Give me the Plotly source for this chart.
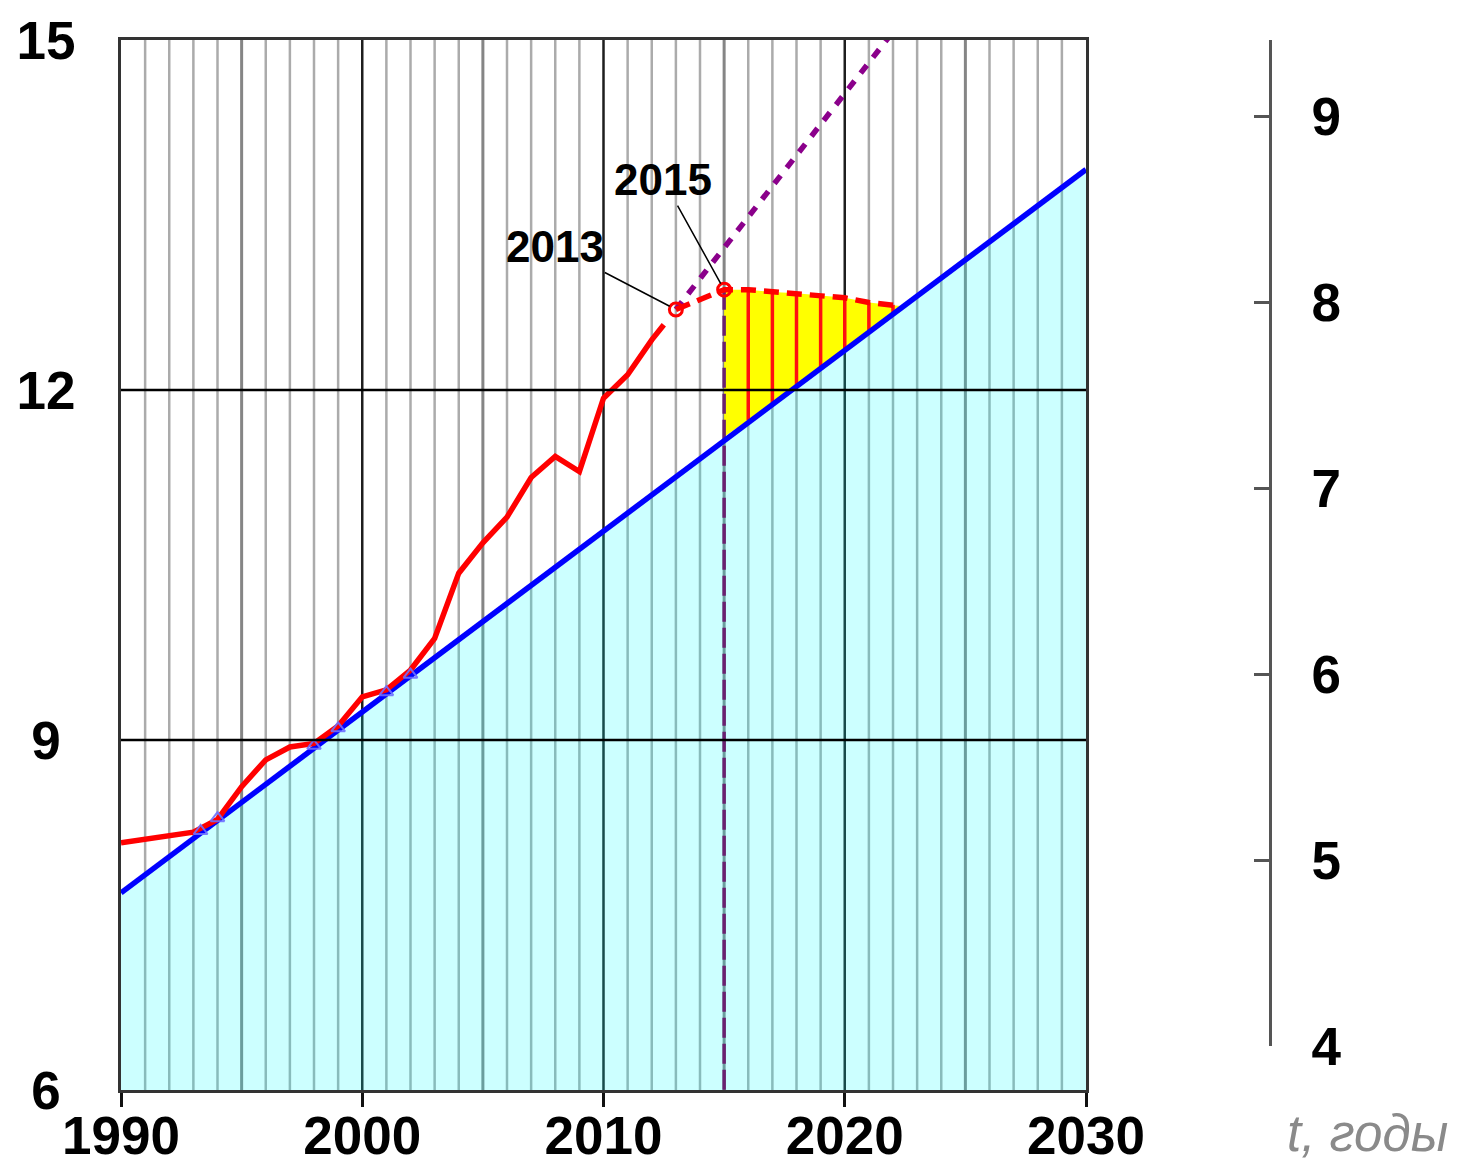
import plotly.graph_objects as go

# ---------------- data ----------------
red_years = [1990, 1993, 1994, 1995, 1996, 1997, 1998, 1999, 2000, 2001, 2002,
             2003, 2004, 2005, 2006, 2007, 2008, 2009, 2010, 2011, 2012, 2012.5]
red_values = [8.12, 8.21, 8.32, 8.60, 8.83, 8.94, 8.97, 9.12, 9.37, 9.43, 9.60,
              9.87, 10.43, 10.69, 10.91, 11.25, 11.43, 11.30, 11.93, 12.13, 12.43, 12.56]

forecast_years = [2013, 2015, 2016, 2017, 2018, 2019, 2020, 2021, 2022, 2022.3]
forecast_values = [12.69, 12.86, 12.86, 12.84, 12.83, 12.81, 12.79, 12.75, 12.73, 12.72]

trend_years = [1990, 2030]
trend_values = [7.69, 13.89]

extrap_years = [2013, 2022]
extrap_values = [12.69, 15.07]

marked_years = [2013, 2015]
marked_values = [12.69, 12.86]
marked_labels = ["2013", "2015"]

tri_years = [1993.3, 1994, 1998, 1999, 2001, 2002]
tri_values = [8.22, 8.33, 8.95, 9.10, 9.41, 9.56]

# yellow zone: upper edge = forecast from 2015, lower edge on the trend line
gap_years = [2015, 2016, 2017, 2018, 2019, 2020, 2021, 2022, 2022.3]
gap_top = [12.86, 12.86, 12.84, 12.83, 12.81, 12.79, 12.75, 12.73, 12.72]
gap_bottom = [11.60, 11.74, 11.88, 12.03, 12.18, 12.34, 12.49, 12.64, 12.72]

x_ticks = [1990, 2000, 2010, 2020, 2030]
y_ticks = [6, 9, 12, 15]
y2_ticks = [4, 5, 6, 7, 8, 9]
x_label = "t, годы"

# ---------------- layout geometry (screen pixels; page has 8px body margin) ----------------
OFF = 8
FW, FH = 1468 - 2 * OFF, 1172 - 2 * OFF
plot_left_px, plot_right_px = 121, 1086
plot_top_px, plot_bottom_px = 40, 1090
L = plot_left_px - OFF
T = plot_top_px - OFF
R = 100
B = FH - (plot_bottom_px - OFF)
PW, PH = FW - L - R, FH - T - B
axis2_px = 1270
axis2_bottom_px = 1046
axis2_px_per_unit = 186


def px_x(p):
    return (p - plot_left_px) / PW


def px_y(p):
    return (plot_bottom_px - p) / PH


FONT = "Liberation Sans, Arial, sans-serif"

fig = go.Figure()

# cyan area under trend line
fig.add_trace(go.Scatter(x=trend_years, y=trend_values, mode="lines",
                         line=dict(width=0), fill="tozeroy",
                         fillcolor="rgba(0,255,255,0.2)", hoverinfo="skip",
                         showlegend=False))

# yellow zone
fig.add_trace(go.Scatter(x=gap_years + gap_years[::-1],
                         y=gap_top + gap_bottom[::-1],
                         mode="lines", line=dict(width=0), fill="toself",
                         fillcolor="#FFFF00", hoverinfo="skip", showlegend=False))

# red hatch lines in yellow zone
hx, hy = [], []
for yr, top, bot in zip(gap_years[1:-1], gap_top[1:-1], gap_bottom[1:-1]):
    hx += [yr, yr, None]
    hy += [top, bot, None]
fig.add_trace(go.Scatter(x=hx, y=hy, mode="lines",
                         line=dict(color="#FF1010", width=3.5),
                         hoverinfo="skip", showlegend=False))

# purple vertical dashed line at 2015
fig.add_trace(go.Scatter(x=[marked_years[1], marked_years[1]],
                         y=[marked_values[1], 6],
                         mode="lines",
                         line=dict(color="#6A2070", width=3.5, dash="20px,6px"),
                         hoverinfo="skip", showlegend=False))

# blue trend line
fig.add_trace(go.Scatter(x=trend_years, y=trend_values, mode="lines",
                         line=dict(color="#0000FF", width=5.5),
                         hoverinfo="skip", showlegend=False))

# purple dotted extrapolation
fig.add_trace(go.Scatter(x=extrap_years, y=extrap_values, mode="lines",
                         line=dict(color="#8B008B", width=5.5, dash="10px,10px"),
                         hoverinfo="skip", showlegend=False))

# red actual line
fig.add_trace(go.Scatter(x=red_years, y=red_values, mode="lines",
                         line=dict(color="#FF0000", width=5.5),
                         hoverinfo="skip", showlegend=False))

# red dashed forecast
fig.add_trace(go.Scatter(x=forecast_years, y=forecast_values, mode="lines",
                         line=dict(color="#FF0000", width=5.5, dash="15px,8px"),
                         hoverinfo="skip", showlegend=False))

# blue open triangles
fig.add_trace(go.Scatter(x=tri_years, y=tri_values, mode="markers",
                         marker=dict(symbol="triangle-up-open", size=12,
                                     color="rgba(110,110,255,0.9)",
                                     line=dict(width=2)),
                         hoverinfo="skip", showlegend=False))

# marked points
fig.add_trace(go.Scatter(x=marked_years, y=marked_values, mode="markers",
                         marker=dict(symbol="circle-open", size=13,
                                     color="#FF0000", line=dict(width=3)),
                         hoverinfo="skip", showlegend=False))

# invisible trace for right axis
fig.add_trace(go.Scatter(x=[x_ticks[-1]], y=[y2_ticks[0]], yaxis="y2",
                         mode="markers", marker=dict(opacity=0),
                         hoverinfo="skip", showlegend=False))

# grid lines as shapes
shapes = []
for yr in range(1991, 2030):
    if yr % 10 == 0:
        col, w = "#1E1E1E", 2.5
    elif yr % 5 == 0:
        col, w = "#858585", 3
    else:
        col, w = "#ABABAB", 2.5
    shapes.append(dict(type="line", xref="x", yref="y", x0=yr, x1=yr,
                       y0=6, y1=15, line=dict(color=col, width=w),
                       layer="below"))
for yv in y_ticks[1:-1]:
    shapes.append(dict(type="line", xref="x", yref="y", x0=1990, x1=2030,
                       y0=yv, y1=yv, line=dict(color="#000000", width=2.5),
                       layer="above"))

annotations = []
offsets = [(-121, -63), (-61, -110)]
for yr, val, lab, (ax, ay) in zip(marked_years, marked_values, marked_labels, offsets):
    annotations.append(dict(x=yr, y=val, xref="x", yref="y", text=lab,
                            showarrow=True, arrowhead=0, arrowwidth=1.5,
                            arrowcolor="#000000", ax=ax, ay=ay, standoff=7,
                            font=dict(family=FONT, size=44, color="#000000",
                                      weight="bold")))
annotations.append(dict(x=px_x(1367), y=px_y(1133), xref="paper", yref="paper",
                        text=x_label, showarrow=False,
                        xanchor="center", yanchor="middle",
                        font=dict(family=FONT, size=51, color="#8A8A8A",
                                  style="italic")))

tick_font = dict(family=FONT, size=53, color="#000000", weight="bold")

y2_top = 4 + (axis2_bottom_px - plot_top_px) / axis2_px_per_unit

# left labels are centred in the reference: pad one-digit labels on the right
y_ticktext = [str(v) if v >= 10 else str(v) + "\u00a0" for v in y_ticks]

fig.update_layout(
    width=FW, height=FH,
    margin=dict(l=L, r=R, t=T, b=B, autoexpand=False),
    paper_bgcolor="white", plot_bgcolor="rgba(0,0,0,0)",
    showlegend=False,
    shapes=shapes,
    annotations=annotations,
    xaxis=dict(range=[1990, 2030], domain=[0, px_x(plot_right_px)],
               tickvals=x_ticks, ticktext=[str(v) for v in x_ticks],
               ticks="outside", ticklen=14, tickwidth=3, tickcolor="#111111",
               showgrid=False, zeroline=False, automargin=False,
               showline=True, linecolor="#333333", linewidth=3, mirror=True,
               ticklabelstandoff=-17, tickfont=tick_font),
    yaxis=dict(range=[6, 15], domain=[0, 1],
               tickvals=y_ticks, ticktext=y_ticktext,
               ticks="", showgrid=False, zeroline=False, automargin=False,
               showline=True, linecolor="#333333", linewidth=3, mirror=True,
               ticklabelstandoff=32, tickfont=tick_font),
    yaxis2=dict(range=[4, y2_top],
                domain=[px_y(axis2_bottom_px), 1],
                anchor="free", position=px_x(axis2_px), side="right",
                tickvals=y2_ticks, ticktext=[str(v) for v in y2_ticks],
                ticks="inside", ticklen=15, tickwidth=3, tickcolor="#555555",
                showgrid=False, zeroline=False, automargin=False,
                showline=True, linecolor="#555555", linewidth=3,
                ticklabelstandoff=29, tickfont=tick_font),
)

fig.write_html("out.html")
